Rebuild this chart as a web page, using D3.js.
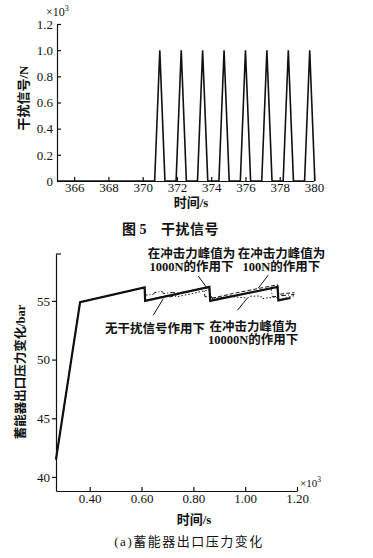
<!DOCTYPE html>
<meta charset="utf-8">
<head>
    <style>
        body { margin: 0; background: #fff; }
        text { font-family: "Liberation Serif", "Noto Sans CJK SC", serif; fill: #111; }
        .cjk { font-family: "Liberation Serif", "Noto Sans CJK SC", sans-serif; }
        .axis path, .axis line { stroke: #111; stroke-width: 1.2; }
        .axis text { font-size: 13px; }
    </style>
    <script src="https://d3js.org/d3.v7.min.js"></script>
</head>
<body>
<svg id="chart"></svg>
<script>
    var width = 373, height = 558;

    // --- fig 5: disturbance signal (x: s, y: x10^3 N)
    var sigTicksX = [366, 368, 370, 372, 374, 376, 378, 380];
    var sigTicksY = [0, 0.2, 0.4, 0.6, 0.8, 1.0, 1.2];
    var sigPeaks = [371.0, 372.25, 373.5, 374.75, 376.0, 377.25, 378.5, 379.75];
    var sigHalf = 0.3;
    var sigPeakVal = 1.0;

    // --- fig (a): accumulator outlet pressure (x: x10^3 s, y: bar)
    var presTicksX = [0.40, 0.60, 0.80, 1.00, 1.20];
    var presTicksY = [40, 45, 50, 55];
    var noDist = [[0.27,41.5],[0.363,54.9],[0.612,56.15],[0.614,55.0],[0.862,56.2],[0.865,55.0],
        [1.125,56.2],[1.128,55.05],[1.175,55.25]];
    var peak1000 = [[0.27,41.5],[0.363,54.9],[0.612,56.15],[0.615,55.5],[0.645,55.55],[0.65,55.72],
        [0.68,55.8],[0.685,55.62],[0.72,55.72],[0.74,55.66],[0.84,56.1],[0.845,55.35],[0.87,55.4],
        [0.875,55.12],[0.93,55.38],[0.96,55.45],[1.10,56.08],[1.105,55.35],[1.14,55.45],[1.19,55.55]];
    var peak100 = [[0.27,41.5],[0.363,54.9],[0.612,56.15],[0.614,55.05],[0.70,55.45],[0.705,55.3],
        [0.76,55.7],[0.862,56.15],[0.866,55.2],[0.95,55.62],[1.125,56.38],[1.13,55.55],[1.16,55.65],[1.19,55.7]];
    var peak10000 = [[0.27,41.5],[0.363,54.9],[0.612,56.15],[0.614,55.0],[0.72,55.55],[0.735,55.35],
        [0.80,55.65],[0.86,55.95],[0.87,55.3],[0.92,55.22],[0.925,55.42],[0.98,55.3],[1.01,55.25],
        [1.02,55.4],[1.06,55.42],[1.065,55.2],[1.12,55.35],[1.13,55.12],[1.16,55.3],[1.19,55.45]];

    // annotations: label lines, text anchor (data units), pointer from -> to (data units)
    var notes = [
        {lines: ["在冲击力峰值为", "1000N的作用下"], at: [0.793, 58.66], from: [0.819, 57.13], to: [0.850, 56.18]},
        {lines: ["在冲击力峰值为", "100N的作用下"], at: [1.14, 58.66], from: [1.089, 57.2], to: [1.051, 56.1]},
        {lines: ["无干扰信号作用下"], at: [0.652, 52.3], from: [0.645, 53.77], to: [0.684, 55.19]},
        {lines: ["在冲击力峰值为", "10000N的作用下"], at: [1.031, 52.44], from: [0.97, 54.2], to: [1.008, 55.23]}
    ];

    var svg = d3.select("#chart").attr("width", width).attr("height", height);
    svg.append("rect").attr("width", width).attr("height", height).attr("fill", "#fff");

    // ================= top chart =================
    var x1 = d3.scaleLinear().domain([365, 380]).range([57, 314]);
    var y1 = d3.scaleLinear().domain([0, 1.2]).range([181, 24]);

    var sigData = [[365, 0]];
    sigPeaks.forEach(function(p){
        sigData.push([p - sigHalf, 0]);
        sigData.push([p, sigPeakVal]);
        sigData.push([p + sigHalf, 0]);
    });

    svg.append("g").attr("class", "axis")
        .attr("transform", "translate(0," + y1(0) + ")")
        .call(d3.axisBottom(x1).tickValues(sigTicksX).tickSizeInner(-4).tickSizeOuter(0).tickPadding(2)
            .tickFormat(d3.format("d")));
    svg.append("g").attr("class", "axis")
        .attr("transform", "translate(" + x1(365) + ",0)")
        .call(d3.axisLeft(y1).tickValues(sigTicksY).tickSizeInner(-4).tickSizeOuter(0).tickPadding(4)
            .tickFormat(function(d){ return d === 0 ? "0" : d.toFixed(1); }));

    svg.append("path")
        .datum(sigData)
        .attr("d", d3.line().x(function(d){ return x1(d[0]); }).y(function(d){ return y1(d[1]); }))
        .attr("fill", "none").attr("stroke", "#111").attr("stroke-width", 1.6)
        .attr("stroke-linejoin", "miter");

    var e1 = svg.append("text").attr("x", 46).attr("y", 16).attr("font-size", 12);
    e1.append("tspan").text("×10");
    e1.append("tspan").attr("font-size", 8).attr("dy", -5).text("3");

    svg.append("text").attr("class", "cjk")
        .attr("transform", "translate(28,98) rotate(-90)")
        .attr("text-anchor", "middle").attr("font-size", 13).attr("font-weight", 600)
        .text("干扰信号/N");

    svg.append("text").attr("class", "cjk")
        .attr("x", 191).attr("y", 207).attr("text-anchor", "middle")
        .attr("font-size", 13).attr("font-weight", 600).text("时间/s");

    svg.append("text").attr("class", "cjk")
        .attr("x", 122).attr("y", 234)
        .attr("font-size", 14).attr("font-weight", 700).text("图 5");
    svg.append("text").attr("class", "cjk")
        .attr("x", 161).attr("y", 234)
        .attr("font-size", 14).attr("font-weight", 700).attr("letter-spacing", 0.5).text("干扰信号");

    // ================= bottom chart =================
    var x2 = d3.scaleLinear().domain([0.27, 1.2]).range([56, 297]);
    var y2 = d3.scaleLinear().domain([38.8, 59]).range([491, 254]);

    svg.append("g").attr("class", "axis")
        .attr("transform", "translate(0," + y2(38.8) + ")")
        .call(d3.axisBottom(x2).tickValues(presTicksX).tickSizeInner(-4).tickSizeOuter(0).tickPadding(3)
            .tickFormat(d3.format(".2f")));
    var ya = svg.append("g").attr("class", "axis")
        .attr("transform", "translate(" + x2(0.27) + ",0)")
        .call(d3.axisLeft(y2).tickValues(presTicksY).tickSizeInner(4).tickSizeOuter(0).tickPadding(2)
            .tickFormat(d3.format("d")));
    ya.append("line").attr("x1", 0).attr("x2", 5).attr("y1", y2(59)).attr("y2", y2(59));

    var line2 = d3.line().x(function(d){ return x2(d[0]); }).y(function(d){ return y2(d[1]); });

    svg.append("path").datum(peak100).attr("d", line2)
        .attr("fill", "none").attr("stroke", "#111").attr("stroke-width", 1).attr("stroke-dasharray", "4,2");
    svg.append("path").datum(peak1000).attr("d", line2)
        .attr("fill", "none").attr("stroke", "#111").attr("stroke-width", 1).attr("stroke-dasharray", "5,2,1,2");
    svg.append("path").datum(peak10000).attr("d", line2)
        .attr("fill", "none").attr("stroke", "#111").attr("stroke-width", 1).attr("stroke-dasharray", "1.5,2");
    svg.append("path").datum(noDist).attr("d", line2)
        .attr("fill", "none").attr("stroke", "#111").attr("stroke-width", 2.2).attr("stroke-linejoin", "miter");

    notes.forEach(function(n){
        svg.append("line")
            .attr("x1", x2(n.from[0])).attr("y1", y2(n.from[1]))
            .attr("x2", x2(n.to[0])).attr("y2", y2(n.to[1]))
            .attr("stroke", "#111").attr("stroke-width", 1);
        var t = svg.append("text").attr("class", "cjk")
            .attr("x", x2(n.at[0])).attr("y", y2(n.at[1]))
            .attr("text-anchor", "middle").attr("font-size", 12.5).attr("font-weight", 600);
        n.lines.forEach(function(s, i){
            t.append("tspan").attr("x", x2(n.at[0])).attr("dy", i === 0 ? 0 : 13.5).text(s);
        });
    });

    var e2 = svg.append("text").attr("x", 300).attr("y", 487).attr("font-size", 11);
    e2.append("tspan").text("×10");
    e2.append("tspan").attr("font-size", 7.5).attr("dy", -5).text("3");

    svg.append("text").attr("class", "cjk")
        .attr("transform", "translate(25,372) rotate(-90)")
        .attr("text-anchor", "middle").attr("font-size", 12.5).attr("font-weight", 600)
        .text("蓄能器出口压力变化/bar");

    svg.append("text").attr("class", "cjk")
        .attr("x", 194).attr("y", 524).attr("text-anchor", "middle")
        .attr("font-size", 13).attr("font-weight", 600).text("时间/s");

    svg.append("text").attr("class", "cjk")
        .attr("x", 189).attr("y", 546).attr("text-anchor", "middle")
        .attr("font-size", 13).attr("letter-spacing", 1.5).text("(a)蓄能器出口压力变化");
</script>
</body>
</html>
